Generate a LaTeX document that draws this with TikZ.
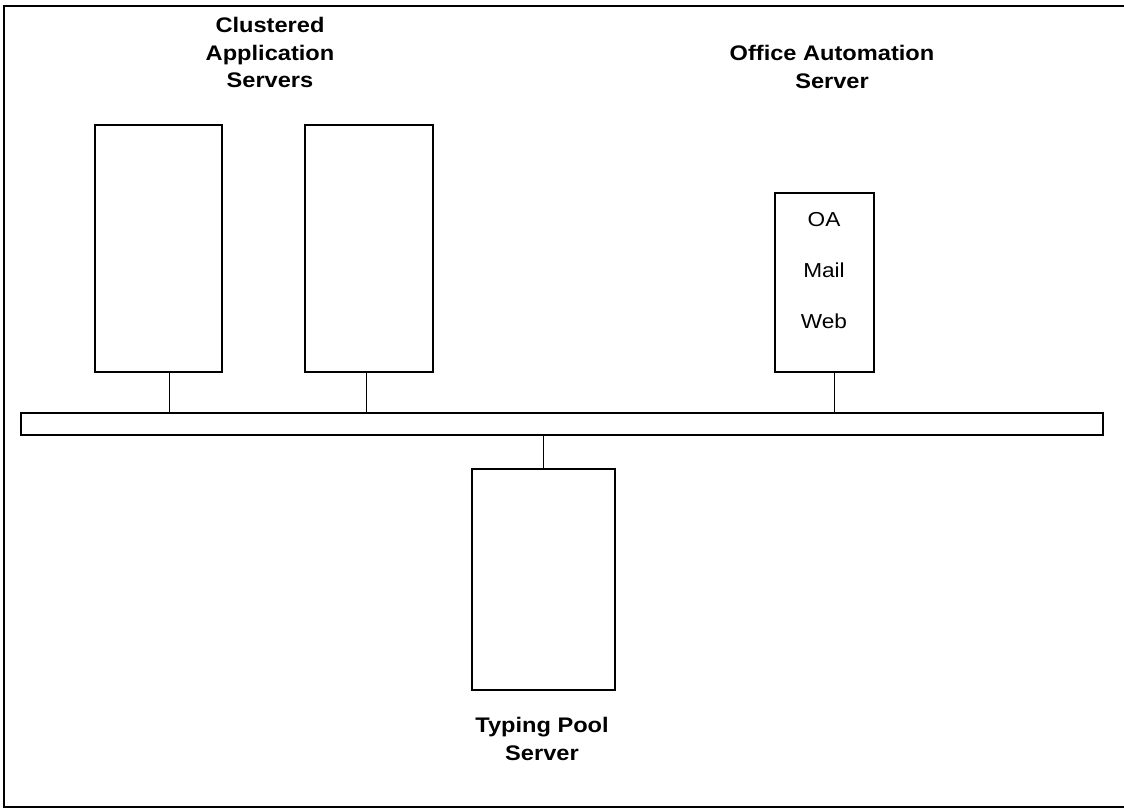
\documentclass[tikz,border=0pt]{standalone}
\usepackage{fontspec}
\setmainfont{Liberation Sans}[FakeStretch=1.12]
\usepackage{tikz}

\begin{document}
\begin{tikzpicture}[x=0.02cm, y=-0.02cm,
server_style/.style={rectangle,draw=black,line width=0.8pt,fill=white,inner sep=0pt},
bus_style/.style={rectangle,draw=black,line width=0.8pt,fill=white,inner sep=0pt,minimum width=21.64cm,minimum height=0.44cm},
title_style/.style={align=center,inner sep=0pt,anchor=north,font=\bfseries\fontsize{12}{15.6}\selectfont},
item_style/.style={inner sep=0pt,anchor=base,font=\fontsize{11.5}{14}\selectfont},
edge_style/.style={draw=black, line width=0.5pt}]
\useasboundingbox (0,0) rectangle (1124,808);
\draw[line width=1.2pt] (4,6) rectangle (1140,807);

% servers
\node[server_style,minimum width=2.54cm,minimum height=4.94cm] (app1) at (158.5,248.5) {};
\node[server_style,minimum width=2.56cm,minimum height=4.94cm] (app2) at (369,248.5) {};
\node[server_style,minimum width=1.98cm,minimum height=3.58cm] (oas) at (824.5,282.5) {};
\node[server_style,minimum width=2.86cm,minimum height=4.42cm] (tps) at (543.5,579.5) {};
\node[bus_style] (bus) at (562,424) {};

\node[item_style] (oa) at (824,226) {OA};
\node[item_style] (mail) at (824,277) {Mail};
\node[item_style] (web) at (824,328) {Web};

% labels
\node[title_style] (app_label) at (270,17) {Clustered\\Application\\Servers};
\node[title_style] (oa_label) at (832,45) {Office Automation\\Server};
\node[title_style] (tp_label) at (542,717) {Typing Pool\\Server};

% connections
\draw[edge_style] ([xshift=0.21cm]app1.south) -- ([xshift=0.21cm]app1.south |- bus.north);
\draw[edge_style] ([xshift=-0.06cm]app2.south) -- ([xshift=-0.06cm]app2.south |- bus.north);
\draw[edge_style] ([xshift=0.19cm]oas.south) -- ([xshift=0.19cm]oas.south |- bus.north);
\draw[edge_style] (tps.north) -- (tps.north |- bus.south);

\end{tikzpicture}
\end{document}
